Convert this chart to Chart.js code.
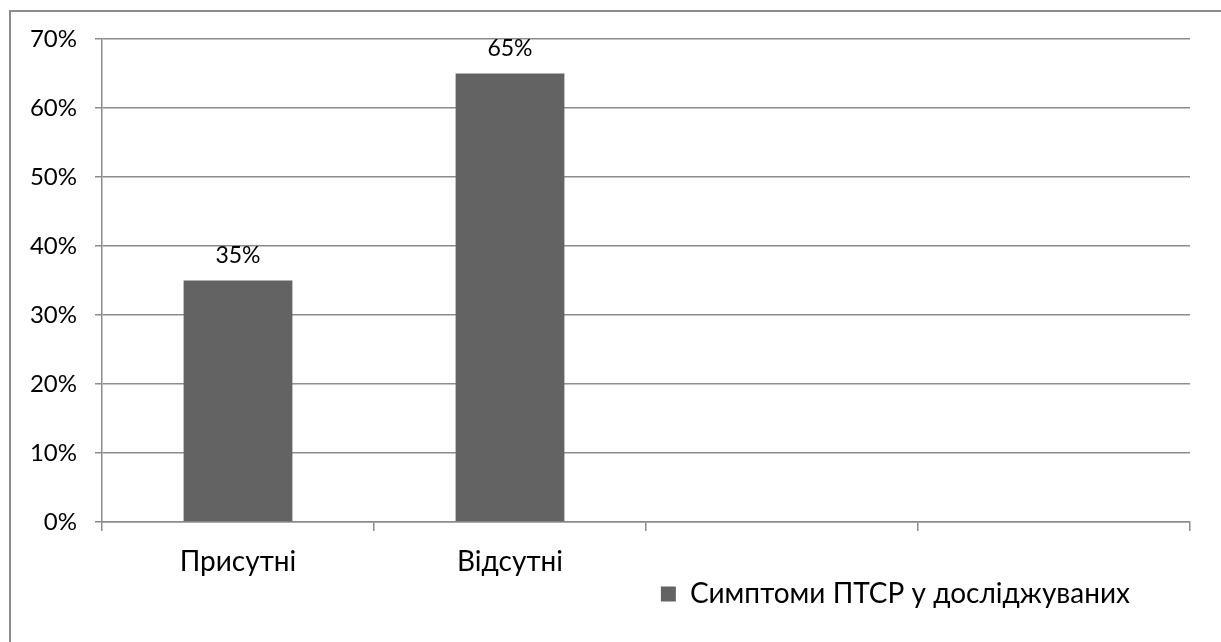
<!DOCTYPE html>
<html>
<head>
    <title>Симптоми ПТСР</title>
    <meta charset="utf-8">
    <script src="https://cdn.jsdelivr.net/npm/chart.js"></script>
</head>
<style>
    html, body {
        margin: 0;
        padding: 0;
        background: #fff;
    }
    #wrap {
        width: 1221px;
        height: 642px;
    }
</style>
<body>
    <div id="wrap">
        <canvas id="ptsdChart"></canvas>
    </div>
    <script>
        // data
        const categories = ['Присутні', 'Відсутні', '', ''];
        const seriesName = 'Симптоми ПТСР у досліджуваних';
        const seriesValues = [35, 65, null, null];
        const yTicks = [0, 10, 20, 30, 40, 50, 60, 70];

        const gridColor = '#8c8c8c';
        const barColor = '#636363';
        const fontFamily = 'Lato, "Open Sans", sans-serif';

        // frame: only top and left edges are in the picture
        const framePlugin = {
            id: 'frame',
            beforeDraw(chart) {
                const ctx = chart.ctx;
                ctx.save();
                ctx.strokeStyle = gridColor;
                ctx.lineWidth = 2;
                ctx.beginPath();
                ctx.moveTo(10, 642);
                ctx.lineTo(10, 11);
                ctx.lineTo(1221, 11);
                ctx.stroke();
                ctx.restore();
            }
        };

        // value labels above the bars
        const valueLabels = {
            id: 'valueLabels',
            afterDatasetsDraw(chart) {
                const ctx = chart.ctx;
                const meta = chart.getDatasetMeta(0);
                ctx.save();
                ctx.fillStyle = '#000';
                ctx.font = '23px ' + fontFamily;
                ctx.textAlign = 'center';
                ctx.textBaseline = 'middle';
                meta.data.forEach(function(bar, i) {
                    const v = seriesValues[i];
                    if (v === null) return;
                    ctx.fillText(v + '%', bar.x, bar.y - 25);
                });
                ctx.restore();
            }
        };

        // push the legend a bit left of the plot's right edge
        const legendShift = {
            id: 'legendShift',
            afterLayout(chart) {
                chart.legend.right = 1130;
            }
        };

        const ctx = document.getElementById('ptsdChart').getContext('2d');
        const chart = new Chart(ctx, {
            type: 'bar',
            data: {
                labels: categories,
                datasets: [
                    {
                        label: seriesName,
                        data: seriesValues,
                        backgroundColor: barColor,
                        borderWidth: 0,
                        barPercentage: 0.4,
                        categoryPercentage: 1
                    }
                ]
            },
            options: {
                responsive: true,
                maintainAspectRatio: false,
                animation: false,
                layout: {
                    padding: { top: 39, left: 0, right: 31, bottom: 24 }
                },
                scales: {
                    x: {
                        afterFit: function(scale) {
                            scale.height = 58;
                        },
                        grid: {
                            display: true,
                            drawOnChartArea: false,
                            drawTicks: true,
                            tickLength: 9,
                            color: gridColor,
                            lineWidth: 1.5,
                            offset: true
                        },
                        border: {
                            color: gridColor,
                            width: 1.5
                        },
                        ticks: {
                            color: '#000',
                            padding: 14,
                            maxRotation: 0,
                            font: { family: fontFamily, size: 28 }
                        }
                    },
                    y: {
                        min: 0,
                        max: 70,
                        afterFit: function(scale) {
                            scale.width = 102;
                        },
                        afterBuildTicks: function(scale) {
                            scale.ticks = yTicks.map(function(v) { return { value: v }; });
                        },
                        grid: {
                            color: gridColor,
                            lineWidth: 1.5,
                            tickLength: 7
                        },
                        border: {
                            color: gridColor,
                            width: 1.5
                        },
                        ticks: {
                            color: '#000',
                            padding: 18,
                            font: { family: fontFamily, size: 24 },
                            callback: function(value) {
                                return value + '%';
                            }
                        }
                    }
                },
                plugins: {
                    legend: {
                        display: true,
                        position: 'bottom',
                        align: 'end',
                        labels: {
                            color: '#000',
                            boxWidth: 15,
                            boxHeight: 15,
                            padding: 0,
                            font: { family: fontFamily, size: 28, lineHeight: 1 }
                        }
                    },
                    tooltip: { enabled: false }
                }
            },
            plugins: [framePlugin, valueLabels, legendShift]
        });
    </script>
</body>
</html>
